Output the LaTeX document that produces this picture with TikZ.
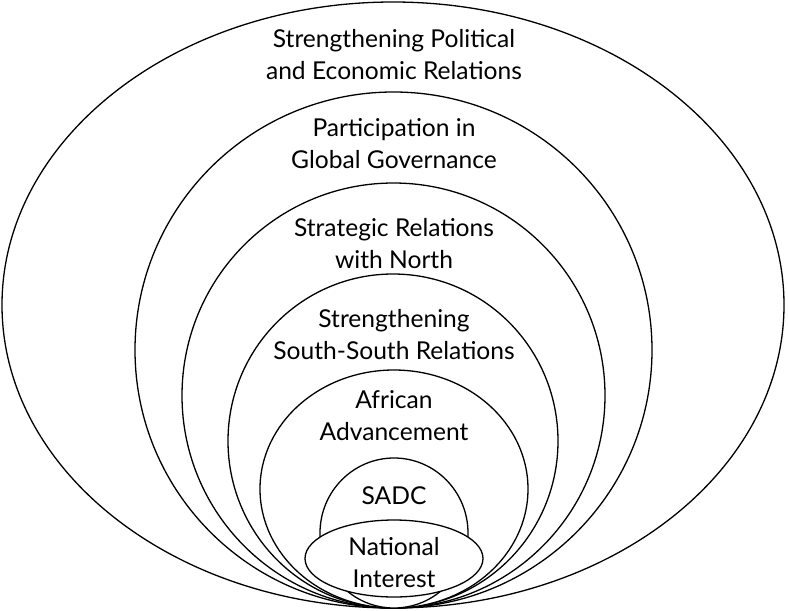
\documentclass[tikz,border=0pt]{standalone}
\usepackage{fontspec}
\setmainfont{Lato}
\usetikzlibrary{shapes.geometric}
\newcommand\lbfont{\fontsize{24.6}{32}\selectfont}
\newcommand\twoline[2]{\begin{tabular}[t]{@{}c@{}}#1\\#2\end{tabular}}
\tikzset{
  ring/.style={draw, line width=1.3pt, fill=white, ellipse, inner sep=0pt, outer sep=0pt},
  lbl/.style={anchor=base, inner sep=0pt, font=\lbfont}
}
\begin{document}
\begin{tikzpicture}[x=1pt,y=-1pt]
\useasboundingbox (0,0) rectangle (788,611);
\node[ring, minimum width=782pt, minimum height=606pt] (e1) at (393,305) {};
\node[ring, minimum width=517pt, minimum height=516pt] (e2) at (393.5,350) {};
\node[ring, minimum width=423pt, minimum height=425pt] (e3) at (393.5,395.5) {};
\node[ring, minimum width=330pt, minimum height=334pt] (e4) at (393,441) {};
\node[ring, minimum width=268pt, minimum height=238pt] (e5) at (394,489) {};
\node[ring, minimum width=148pt, minimum height=150pt] (e6) at (394,533) {};
\node[ring, minimum width=178pt, minimum height=77pt] (e7) at (394,558.5) {};
\node[lbl] (t1) at (394,47) {\twoline{Strengthening Political}{and Economic Relations}};
\node[lbl] (t2) at (394,136) {\twoline{Participation in}{Global Governance}};
\node[lbl] (t3) at (394,236) {\twoline{Strategic Relations}{with North}};
\node[lbl] (t4) at (394,327) {\twoline{Strengthening}{South-South Relations}};
\node[lbl] (t5) at (394,408) {\twoline{African}{Advancement}};
\node[lbl] (t6) at (394,504) {SADC};
\node[lbl] (t7) at (394,555) {\twoline{National}{Interest}};
\end{tikzpicture}
\end{document}
